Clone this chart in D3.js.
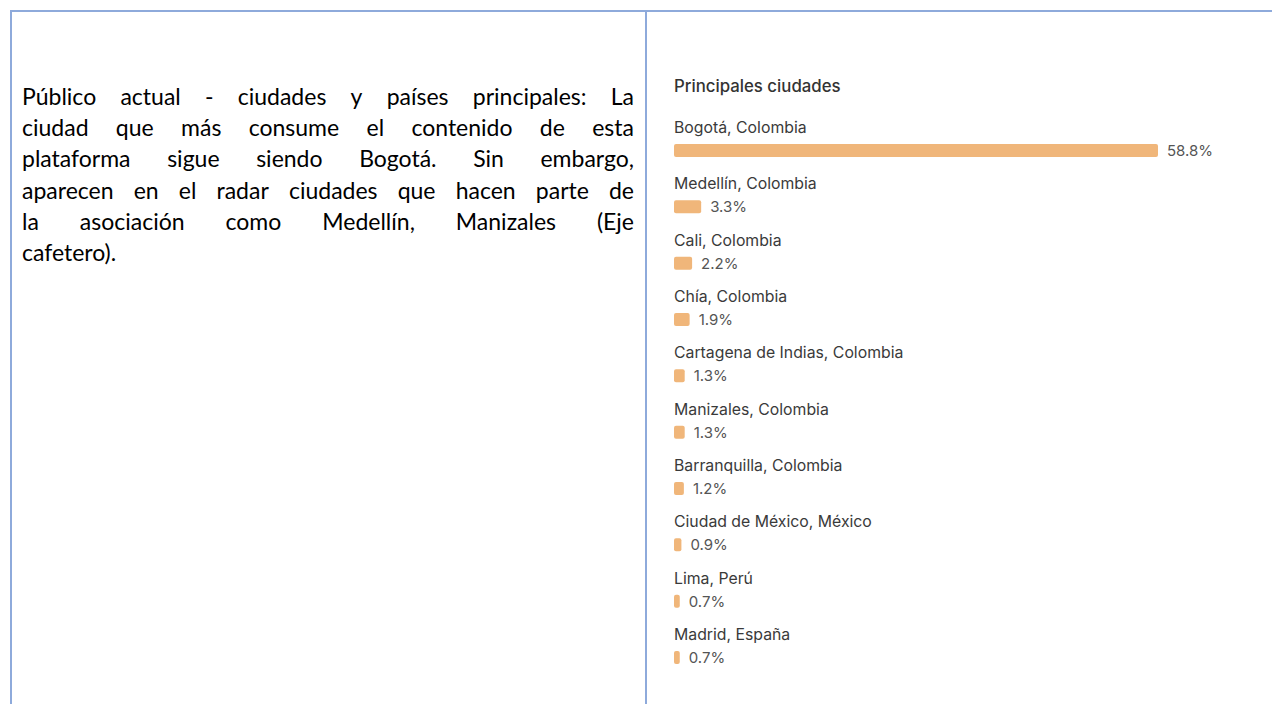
<!DOCTYPE html>
<html>
<head>
<meta charset="utf-8">
<script src="https://cdn.jsdelivr.net/npm/d3@7"></script>
<style>
  body { margin: 0; background: #fff; }
</style>
</head>
<body>
<div id="chart"></div>
<script>
const width = 1272;
const height = 704;

// data
const cities = [
  'Bogotá, Colombia',
  'Medellín, Colombia',
  'Cali, Colombia',
  'Chía, Colombia',
  'Cartagena de Indias, Colombia',
  'Manizales, Colombia',
  'Barranquilla, Colombia',
  'Ciudad de México, México',
  'Lima, Perú',
  'Madrid, España'
];
const shares = [58.8, 3.3, 2.2, 1.9, 1.3, 1.3, 1.2, 0.9, 0.7, 0.7];
const chartTitle = 'Principales ciudades';

const paragraph = [
  'Público actual - ciudades y países principales: La',
  'ciudad que más consume el contenido de esta',
  'plataforma sigue siendo Bogotá. Sin embargo,',
  'aparecen en el radar ciudades que hacen parte de',
  'la asociación como Medellín, Manizales (Eje',
  'cafetero).'
];

const svg = d3.select('#chart')
  .append('svg')
  .attr('width', width)
  .attr('height', height);

svg.append('rect')
  .attr('width', width)
  .attr('height', height)
  .attr('fill', '#fff');

// table borders (word document look)
const border = '#8eaadb';
svg.append('line')
  .attr('x1', 10).attr('x2', width).attr('y1', 11).attr('y2', 11)
  .attr('stroke', border).attr('stroke-width', 2);
svg.append('line')
  .attr('x1', 11).attr('x2', 11).attr('y1', 10).attr('y2', height)
  .attr('stroke', border).attr('stroke-width', 2);
svg.append('line')
  .attr('x1', 646).attr('x2', 646).attr('y1', 10).attr('y2', height)
  .attr('stroke', border).attr('stroke-width', 2);

// left cell: justified paragraph
const textLeft = 22;
const textRight = 634;
const lineStep = 31.2;
const para = svg.append('g')
  .attr('class', 'para')
  .style('font-family', 'Lato, "Open Sans", sans-serif')
  .style('fill', '#000');

// size the font so the fullest line fits the cell width with ~normal spaces
const probe = para.append('text').style('font-size', '20px');
const widest = d3.max(paragraph, l => probe.text(l).node().getComputedTextLength());
probe.remove();
const paraSize = Math.min(23, 20 * (textRight - textLeft - 2) / widest);
para.style('font-size', paraSize + 'px');

paragraph.forEach(function (line, i) {
  const words = line.split(' ');
  const baseline = 105 + i * lineStep;
  const nodes = words.map(w => para.append('text').attr('y', baseline).text(w));
  const widths = nodes.map(n => n.node().getComputedTextLength());
  const total = d3.sum(widths);
  const last = i === paragraph.length - 1;
  const gap = last ? paraSize * 0.26 : (textRight - textLeft - total) / (words.length - 1);
  let x = textLeft;
  nodes.forEach(function (n, j) {
    n.attr('x', x);
    x += widths[j] + gap;
  });
});

// right cell: city bars
const left = 674;
const x = d3.scaleLinear()
  .domain([0, d3.max(shares)])
  .range([0, 484]);

const y = d3.scaleBand()
  .domain(cities)
  .range([100, 100 + 56.33 * cities.length]);

const font = 'Inter, "Helvetica Neue", Arial, sans-serif';

svg.append('text')
  .attr('x', left)
  .attr('y', 92)
  .text(chartTitle)
  .style('font-family', font)
  .style('font-size', '16.8px')
  .style('font-weight', 500)
  .style('fill', '#333');

const rows = svg.selectAll('.row')
  .data(cities.map((c, i) => ({ city: c, value: shares[i] })))
  .enter()
  .append('g')
  .attr('class', 'row')
  .attr('transform', d => `translate(${left},${y(d.city)})`);

rows.append('text')
  .attr('y', 33)
  .text(d => d.city)
  .style('font-family', font)
  .style('font-size', '15.8px')
  .style('fill', '#3a3a3a');

rows.append('rect')
  .attr('y', 44)
  .attr('height', 13)
  .attr('width', d => x(d.value))
  .attr('rx', 2)
  .attr('fill', '#f0b67a');

rows.append('text')
  .attr('x', d => x(d.value) + 9)
  .attr('y', 56)
  .text(d => d.value.toFixed(1) + '%')
  .style('font-family', font)
  .style('font-size', '15px')
  .style('fill', '#555');
</script>
</body>
</html>
